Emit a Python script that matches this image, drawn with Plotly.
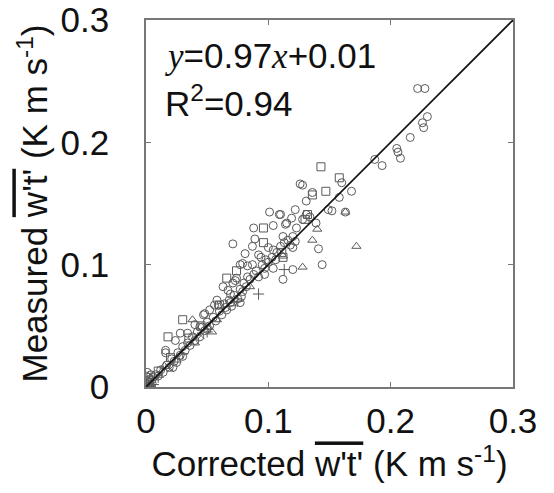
import plotly.graph_objects as go

# values (K m s-1)
circ_x = [0.222, 0.228, 0.230, 0.226, 0.227, 0.216, 0.205, 0.206, 0.208, 0.187, 0.193,
          0.168, 0.158, 0.160, 0.136, 0.131, 0.128, 0.126, 0.149, 0.152, 0.163, 0.131,
          0.128, 0.134, 0.139, 0.141, 0.144, 0.122, 0.115, 0.119, 0.110, 0.123, 0.112,
          0.120, 0.122, 0.120, 0.120, 0.112, 0.101, 0.109, 0.088, 0.104, 0.114, 0.089,
          0.071, 0.087, 0.081, 0.100, 0.092, 0.094, 0.107, 0.104, 0.077, 0.083, 0.087,
          0.097, 0.097, 0.104, 0.073, 0.083, 0.079, 0.063, 0.067, 0.077, 0.079, 0.078,
          0.077, 0.069, 0.058, 0.059, 0.069, 0.065, 0.048, 0.052, 0.047, 0.056, 0.074,
          0.071, 0.028, 0.034, 0.040, 0.044, 0.050, 0.016, 0.016, 0.025, 0.030, 0.022,
          0.024,
          0.005, 0.008, 0.010, 0.012, 0.014, 0.017, 0.019, 0.021, 0.023, 0.026, 0.028,
          0.030, 0.032, 0.034, 0.036, 0.038, 0.040, 0.042, 0.044, 0.046, 0.048, 0.050,
          0.052, 0.055, 0.057, 0.060, 0.062, 0.064, 0.066, 0.068, 0.070, 0.072, 0.075,
          0.080, 0.082, 0.085, 0.088, 0.090, 0.092, 0.095, 0.098, 0.100, 0.103, 0.106,
          0.110, 0.113, 0.116, 0.118,
          0.000, 0.001, 0.002, 0.002, 0.003, 0.004, 0.001, 0.005, 0.006, 0.003, 0.000]
circ_y = [0.244, 0.244, 0.221, 0.216, 0.212, 0.204, 0.195, 0.192, 0.187, 0.186, 0.181,
          0.160, 0.155, 0.167, 0.159, 0.152, 0.165, 0.166, 0.145, 0.144, 0.143, 0.141,
          0.137, 0.139, 0.134, 0.113, 0.100, 0.145, 0.134, 0.138, 0.141, 0.130, 0.123,
          0.123, 0.119, 0.114, 0.096, 0.088, 0.143, 0.141, 0.130, 0.132, 0.133, 0.121,
          0.117, 0.115, 0.109, 0.114, 0.108, 0.106, 0.110, 0.112, 0.100, 0.099, 0.100,
          0.097, 0.092, 0.097, 0.087, 0.090, 0.101, 0.082, 0.079, 0.080, 0.078, 0.074,
          0.069, 0.076, 0.071, 0.067, 0.069, 0.065, 0.060, 0.063, 0.059, 0.067, 0.089,
          0.085, 0.044, 0.044, 0.051, 0.049, 0.047, 0.030, 0.028, 0.020, 0.025, 0.016,
          0.038,
          0.006, 0.010, 0.009, 0.014, 0.012, 0.018, 0.016, 0.023, 0.021, 0.028, 0.026,
          0.033, 0.030, 0.036, 0.034, 0.041, 0.038, 0.045, 0.041, 0.049, 0.046, 0.053,
          0.050, 0.057, 0.054, 0.062, 0.059, 0.068, 0.063, 0.071, 0.066, 0.075, 0.072,
          0.085, 0.082, 0.088, 0.092, 0.095, 0.090, 0.100, 0.104, 0.102, 0.106, 0.104,
          0.115, 0.118, 0.120, 0.116,
          0.002, 0.005, 0.001, 0.008, 0.004, 0.010, 0.012, 0.003, 0.008, 0.006, 0.009]

sq_x = [0.143, 0.158, 0.147, 0.136, 0.132, 0.130, 0.111, 0.112, 0.096, 0.096, 0.066,
        0.074, 0.030, 0.018, 0.010, 0.020, 0.035, 0.045, 0.060, 0.003, 0.001]
sq_y = [0.180, 0.171, 0.160, 0.157, 0.141, 0.137, 0.110, 0.106, 0.130, 0.118, 0.089,
        0.095, 0.055, 0.041, 0.013, 0.024, 0.040, 0.050, 0.067, 0.004, 0.000]

tri_x = [0.163, 0.140, 0.136, 0.172, 0.128, 0.112, 0.038, 0.051, 0.054, 0.015, 0.025,
         0.040, 0.058, 0.070, 0.004, 0.085]
tri_y = [0.143, 0.129, 0.120, 0.115, 0.098, 0.107, 0.055, 0.049, 0.045, 0.017, 0.022,
         0.036, 0.055, 0.068, 0.002, 0.082]

plus_x = [0.113, 0.092, 0.010, 0.030, 0.050, 0.002, 0.006, 0.075]
plus_y = [0.096, 0.076, 0.008, 0.027, 0.045, 0.000, 0.002, 0.070]

cross_x = [0.020, 0.045, 0.001]
cross_y = [0.015, 0.042, 0.003]

line_x = [0.0, 0.3]
line_y = [0.0, 0.3]

ticks = [0, 0.1, 0.2, 0.3]
tick_text = ["0", "0.1", "0.2", "0.3"]

FONT = "Liberation Sans, Arial, sans-serif"
MK = "#5a5a5a"

fig = go.Figure()


def add_marks(xs, ys, symbol, size):
    # open symbols take their outline colour from marker.color
    fig.add_trace(go.Scatter(
        x=xs, y=ys, mode="markers",
        marker=dict(symbol=symbol, size=size, color=MK, line=dict(color=MK, width=1)),
        showlegend=False, hoverinfo="skip"))


add_marks(circ_x, circ_y, "circle-open", 8)
add_marks(sq_x, sq_y, "square-open", 8)
add_marks(tri_x, tri_y, "triangle-up-open", 8)
add_marks(plus_x, plus_y, "cross-thin-open", 8)
add_marks(cross_x, cross_y, "x-thin-open", 7)

fig.add_trace(go.Scatter(x=line_x, y=line_y, mode="lines",
                         line=dict(color="#111111", width=1.6),
                         showlegend=False, hoverinfo="skip"))

it = "<span style=\"font-family:'Liberation Serif',serif;font-style:italic\">%s</span>"
fig.add_annotation(xref="paper", yref="paper", x=0.045, y=0.903, xanchor="left", yanchor="middle",
                   text=it % "y" + "=0.97" + it % "x" + "+0.01", showarrow=False,
                   font=dict(family=FONT, size=35, color="#111111"))
fig.add_annotation(xref="paper", yref="paper", x=0.045, y=0.778, xanchor="left", yanchor="middle",
                   text="R<sup>2</sup>=0.94", showarrow=False,
                   font=dict(family=FONT, size=35, color="#111111"))

axis_common = dict(range=[0, 0.3], tickvals=ticks, ticktext=tick_text, ticks="inside",
                   ticklen=5, tickcolor="#777777", showline=True, linecolor="#777777",
                   linewidth=1.5, mirror="ticks", showgrid=False, zeroline=False,
                   ticklabeloverflow="allow",
                   tickfont=dict(family=FONT, size=35, color="#111111"))

ov = "<span style=\"text-decoration:overline\">w't'</span>"
fig.update_xaxes(**axis_common, ticklabelstandoff=2,
                 title=dict(text="Corrected " + ov + " (K m s<sup>-1</sup>)",
                            font=dict(family=FONT, size=35, color="#111111"), standoff=9))
fig.update_yaxes(**axis_common, ticklabelstandoff=28,
                 title=dict(text="Measured " + ov + " (K m s<sup>-1</sup>)",
                            font=dict(family=FONT, size=35, color="#111111"), standoff=2))

# page body has an 8px margin, so the figure is drawn 8px smaller and offset
fig.update_layout(width=546, height=485, plot_bgcolor="white", paper_bgcolor="white",
                  margin=dict(l=138, r=41, t=12, b=106, autoexpand=False))

fig.write_html("out.html")
